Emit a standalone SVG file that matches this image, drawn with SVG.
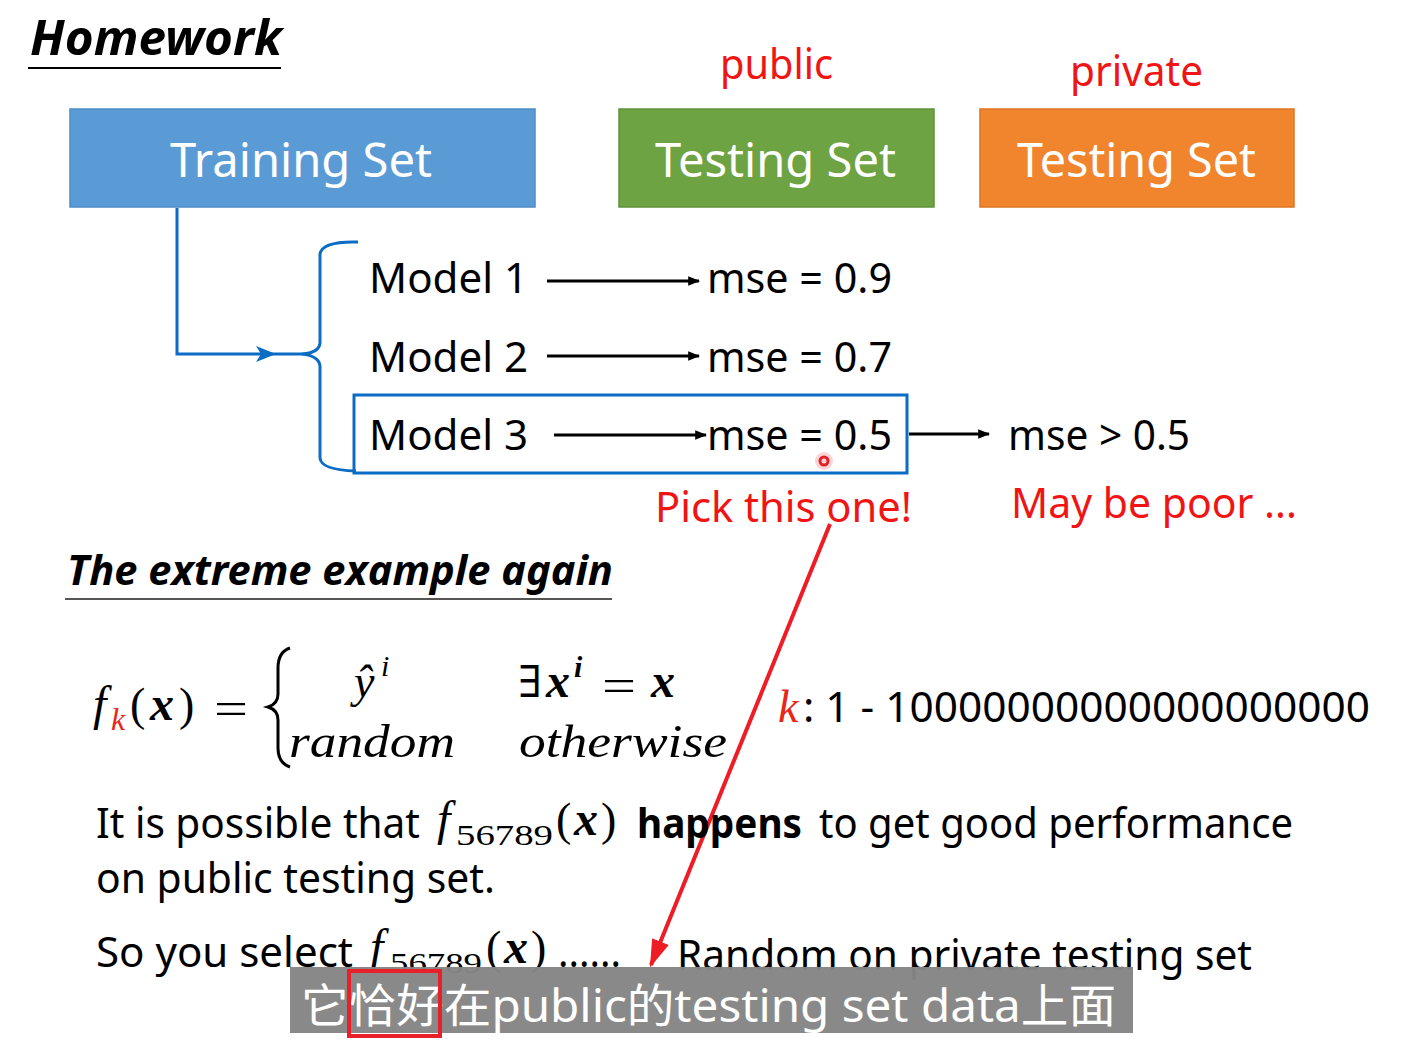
<svg xmlns="http://www.w3.org/2000/svg" width="1412" height="1043" viewBox="0 0 1412 1043">
  <style>
    .sans { font-family: "Noto Sans", "Open Sans", sans-serif; }
    .body { font-family: "Noto Sans", "Open Sans", sans-serif; font-size: 42px; fill: #000; }
    .red { fill: #f01414; }
    .boxtxt { font-family: "Noto Sans", "Open Sans", sans-serif; font-size: 48px; fill: #fff; }
    .math { font-family: "Liberation Serif", "DejaVu Serif", serif; font-style: italic; fill: #000; }
    .mathr { font-family: "Liberation Serif", "DejaVu Serif", serif; fill: #000; }
    .head { font-family: "Noto Sans", "Open Sans", sans-serif; font-weight: bold; font-style: italic; fill: #000; }
    .arrow { stroke: #000; stroke-width: 3; fill: none; marker-end: url(#ah); }
  </style>
  <defs>
    <marker id="ah" viewBox="0 0 10 10" refX="9" refY="5" markerWidth="4" markerHeight="4" orient="auto" markerUnits="strokeWidth">
      <path d="M0,1 L10,5 L0,9 z" fill="#000"/>
    </marker>
    <marker id="ahr" viewBox="0 0 10 10" refX="9" refY="5" markerWidth="7" markerHeight="7" orient="auto" markerUnits="strokeWidth">
      <path d="M0,1.8 L10,5 L0,8.2 z" fill="#ee1c25"/>
    </marker>
  </defs>
  <rect width="1412" height="1043" fill="#fff"/>

  <!-- Title -->
  <g id="title">
    <text class="head" x="30" y="55" font-size="48" textLength="252" lengthAdjust="spacingAndGlyphs">Homework</text>
    <line x1="28" y1="68" x2="281" y2="68" stroke="#000" stroke-width="2"/>
  </g>

  <!-- Boxes -->
  <g id="training-set">
    <rect x="70" y="109" width="465" height="98" fill="#5b9bd5" stroke="#4f8cc6" stroke-width="1.5"/>
    <text class="boxtxt" x="170" y="177" textLength="262" lengthAdjust="spacingAndGlyphs">Training Set</text>
  </g>
  <g id="public-testing-set">
    <text class="sans red" x="720" y="79" font-size="41" textLength="113" lengthAdjust="spacingAndGlyphs">public</text>
    <rect x="619" y="109" width="315" height="98" fill="#6ea343" stroke="#5f9238" stroke-width="1.5"/>
    <text class="boxtxt" x="655" y="177" textLength="241" lengthAdjust="spacingAndGlyphs">Testing Set</text>
  </g>
  <g id="private-testing-set">
    <text class="sans red" x="1070" y="86" font-size="41" textLength="133" lengthAdjust="spacingAndGlyphs">private</text>
    <rect x="980" y="109" width="314" height="98" fill="#f0852e" stroke="#e07424" stroke-width="1.5"/>
    <text class="boxtxt" x="1017" y="177" textLength="239" lengthAdjust="spacingAndGlyphs">Testing Set</text>
  </g>

  <!-- Models -->
  <g id="model-1">
    <text class="body" x="369" y="293" textLength="159" lengthAdjust="spacingAndGlyphs">Model 1</text>
    <text class="body" x="707" y="293" textLength="185" lengthAdjust="spacingAndGlyphs">mse = 0.9</text>
  </g>
  <g id="model-2">
    <text class="body" x="369" y="372" textLength="159" lengthAdjust="spacingAndGlyphs">Model 2</text>
    <text class="body" x="707" y="372" textLength="185" lengthAdjust="spacingAndGlyphs">mse = 0.7</text>
  </g>
  <g id="model-3">
    <rect x="354" y="395" width="553" height="78" fill="none" stroke="#0a6cc4" stroke-width="3"/>
    <text class="body" x="369" y="450" textLength="159" lengthAdjust="spacingAndGlyphs">Model 3</text>
    <text class="body" x="707" y="450" textLength="185" lengthAdjust="spacingAndGlyphs">mse = 0.5</text>
  </g>
  <g id="private-result">
    <text class="body" x="1008" y="450" textLength="182" lengthAdjust="spacingAndGlyphs">mse &gt; 0.5</text>
  </g>
  <g id="labels">
    <text class="sans red" x="655" y="522" font-size="42" textLength="257" lengthAdjust="spacingAndGlyphs">Pick this one!</text>
    <text class="sans red" x="1011" y="518" font-size="42" textLength="286" lengthAdjust="spacingAndGlyphs">May be poor ...</text>
  </g>

  <!-- cursor mark -->
  <g id="cursor">
    <circle cx="824" cy="461" r="9" fill="#f7b9b9" opacity="0.6"/>
    <circle cx="824" cy="461" r="4" fill="none" stroke="#e3202a" stroke-width="3"/>
  </g>

  <!-- Connectors -->
  <g id="connectors">
    <path d="M177,208 V354 H303" fill="none" stroke="#0a6cc4" stroke-width="3"/>
    <polygon points="256,346 276,354 256,362 261,354" fill="#0a6cc4"/>
    <path d="M358,242 Q322,241 320,254 V343 Q319,353 302,354 Q319,356 320,366 V458 Q321,470 356,471" fill="none" stroke="#0a6cc4" stroke-width="3"/>
    <line class="arrow" x1="547" y1="281" x2="699" y2="281"/>
    <line class="arrow" x1="547" y1="356" x2="699" y2="356"/>
    <line class="arrow" x1="554" y1="435" x2="706" y2="435"/>
    <line class="arrow" x1="909" y1="434" x2="989" y2="434"/>
    <line x1="830" y1="524" x2="651" y2="965" stroke="#ee1c25" stroke-width="4" marker-end="url(#ahr)"/>
  </g>

  <!-- Extreme example -->
  <g id="extreme-heading">
    <text class="head" x="67" y="585" font-size="42" textLength="546" lengthAdjust="spacingAndGlyphs">The extreme example again</text>
    <line x1="65" y1="599" x2="612" y2="599" stroke="#555" stroke-width="2"/>
  </g>

  <g id="formula">
    <text class="math" x="93" y="720" font-size="48">f</text>
    <text class="math" x="111" y="730" font-size="32" style="fill:#e8261a">k</text>
    <text class="mathr" x="130" y="720" font-size="46">(</text>
    <text class="math" x="150" y="720" font-size="48" font-weight="bold">x</text>
    <text class="mathr" x="179" y="720" font-size="46">)</text>
    <text class="mathr" x="214" y="724" font-size="46" textLength="34" lengthAdjust="spacingAndGlyphs">=</text>
    <path d="M290,648 Q278,652 278,668 V694 Q278,704 268,707 Q278,710 278,720 V748 Q278,763 290,767" fill="none" stroke="#000" stroke-width="3"/>
    <text class="math" x="354" y="697" font-size="46">ŷ</text>
    <text class="math" x="381" y="676" font-size="30">i</text>
    <text class="math" x="289" y="757" font-size="46" textLength="166" lengthAdjust="spacingAndGlyphs">random</text>
    <text class="mathr" x="518" y="697" font-size="44">∃</text>
    <text class="math" x="546" y="697" font-size="48" font-weight="bold">x</text>
    <text class="math" x="574" y="677" font-size="30" font-weight="bold">i</text>
    <text class="mathr" x="602" y="701" font-size="46" textLength="34" lengthAdjust="spacingAndGlyphs">=</text>
    <text class="math" x="651" y="697" font-size="48" font-weight="bold">x</text>
    <text class="math" x="519" y="757" font-size="46" textLength="208" lengthAdjust="spacingAndGlyphs">otherwise</text>
  </g>

  <g id="k-range">
    <text class="math" x="778" y="722" font-size="46" style="fill:#e8261a">k</text>
    <text class="body" x="803" y="722" textLength="567" lengthAdjust="spacingAndGlyphs">: 1 - 10000000000000000000</text>
  </g>

  <g id="sentence-1">
    <text class="body" x="96" y="838" textLength="324" lengthAdjust="spacingAndGlyphs">It is possible that</text>
    <text class="math" x="437" y="835" font-size="48">f</text>
    <text class="mathr" x="456" y="845" font-size="30" textLength="97" lengthAdjust="spacingAndGlyphs">56789</text>
    <text class="mathr" x="556" y="835" font-size="46">(</text>
    <text class="math" x="574" y="835" font-size="48" font-weight="bold">x</text>
    <text class="mathr" x="601" y="835" font-size="46">)</text>
    <text class="body" x="637" y="838" font-weight="bold" textLength="165" lengthAdjust="spacingAndGlyphs">happens</text>
    <text class="body" x="819" y="838" textLength="474" lengthAdjust="spacingAndGlyphs">to get good performance</text>
    <text class="body" x="96" y="893" textLength="399" lengthAdjust="spacingAndGlyphs">on public testing set.</text>
  </g>

  <g id="sentence-2">
    <text class="body" x="96" y="967" textLength="257" lengthAdjust="spacingAndGlyphs">So you select</text>
    <text class="math" x="370" y="963" font-size="48">f</text>
    <text class="mathr" x="390" y="973" font-size="30" textLength="92" lengthAdjust="spacingAndGlyphs">56789</text>
    <text class="mathr" x="486" y="963" font-size="46">(</text>
    <text class="math" x="504" y="963" font-size="48" font-weight="bold">x</text>
    <text class="mathr" x="531" y="963" font-size="46">)</text>
    <text class="body" x="558" y="967" textLength="63" lengthAdjust="spacingAndGlyphs">......</text>
    <text class="body" x="677" y="970" textLength="575" lengthAdjust="spacingAndGlyphs">Random on private testing set</text>
  </g>

  <!-- Subtitle overlay -->
  <g id="subtitle">
    <rect x="290" y="967" width="843" height="66" fill="#858585" opacity="0.97"/>
    <text x="301" y="1022" font-family="'Noto Sans', 'Noto Sans CJK SC', sans-serif" font-size="46" fill="#fff" textLength="815" lengthAdjust="spacingAndGlyphs">它恰好在public的testing set data上面</text>
    <rect x="349" y="971" width="91" height="65" fill="none" stroke="#e8202a" stroke-width="4"/>
  </g>
</svg>
